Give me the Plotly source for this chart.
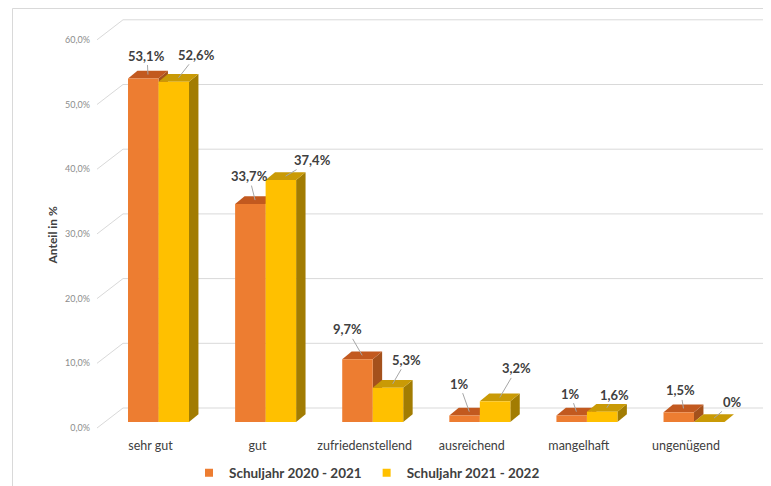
import plotly.graph_objects as go

# ---------------- data ----------------
categories = ["sehr gut", "gut", "zufriedenstellend", "ausreichend", "mangelhaft", "ungenügend"]
series_names = ["Schuljahr 2020 - 2021", "Schuljahr 2021 - 2022"]
values_2020 = [53.1, 33.7, 9.7, 1, 1, 1.5]
values_2021 = [52.6, 37.4, 5.3, 3.2, 1.6, 0]
y_ticks = [0, 10, 20, 30, 40, 50, 60]
y_tick_labels = [f"{v:.1f}".replace(".", ",") + "%" for v in y_ticks]

# ---------------- style ----------------
# page body has an 8px default margin, so the figure is sized/positioned to compensate
W, H = 763, 478
ML, MR, MT, MB = 87, 5, 7, 54
PLOT_W, PLOT_H = W - ML - MR, H - MT - MB
X_RANGE = [-0.593, 5.672]
Y_RANGE = [-1.545, 62.906]
BAR_W = 0.2848
DX, DY = 0.088, 1.2           # 3D depth offsets (data units)
LABEL_SHIFT_Y = 0.927          # tick labels sit a bit lower than the bar scale
GRID_SHIFT_Y = 2.164           # back wall sits higher
GRID_FRONT_X, GRID_BACK_X = -0.574, -0.3315
CAT_LABEL_SHIFT = 0.075

FONT = "Lato"
TXT = "#404040"
series_cols = [
    dict(front="#ED7D31", top="#C2591F", side="#A4511C"),
    dict(front="#FFC000", top="#C99A06", side="#A27C02"),
]
offsets = [-BAR_W, 0.0]
all_values = [values_2020, values_2021]

# label offsets (ax, ay) in px for each label
label_offsets = [
    [(-1, -19), (-6, -24), (-15, -26), (-10, -28), (-6, -18), (-3, -18)],
    [(18, -23), (27, -16), (14, -24), (17, -29), (8, -13), (19, -16)],
]

xpos = list(range(len(categories)))

fig = go.Figure()
shapes = []

# back-wall gridlines with diagonal floor/side-wall connectors
for v in y_ticks:
    shapes.append(dict(type="line", xref="x", yref="y", layer="below",
                       x0=GRID_FRONT_X, y0=v - LABEL_SHIFT_Y, x1=GRID_BACK_X, y1=v + GRID_SHIFT_Y,
                       line=dict(color="#D9D9D9", width=1)))
    shapes.append(dict(type="line", xref="x", yref="y", layer="below",
                       x0=GRID_BACK_X, y0=v + GRID_SHIFT_Y, x1=X_RANGE[1], y1=v + GRID_SHIFT_Y,
                       line=dict(color="#D9D9D9", width=1)))

# 3D faces (side + top) for each bar
for s, vals in enumerate(all_values):
    for i, v in zip(xpos, vals):
        x0 = i + offsets[s]
        x1 = x0 + BAR_W
        side = f"M {x1},0 L {x1+DX},{DY} L {x1+DX},{v+DY} L {x1},{v} Z"
        top = f"M {x0},{v} L {x1},{v} L {x1+DX},{v+DY} L {x0+DX},{v+DY} Z"
        shapes.append(dict(type="path", path=side, xref="x", yref="y", layer="below",
                           fillcolor=series_cols[s]["side"], line=dict(width=0)))
        shapes.append(dict(type="path", path=top, xref="x", yref="y", layer="below",
                           fillcolor=series_cols[s]["top"], line=dict(width=0)))

# outer chart frame
shapes.append(dict(type="rect", xref="paper", yref="paper",
                   x0=(4.5 - ML) / PLOT_W, x1=1.3,
                   y0=-0.3, y1=(H - MB - 0.5) / PLOT_H,
                   line=dict(color="#D9D9D9", width=1), layer="below"))

# front faces of bars
for s, vals in enumerate(all_values):
    fig.add_trace(go.Bar(x=xpos, y=vals, width=BAR_W, offset=offsets[s],
                         marker=dict(color=series_cols[s]["front"], line=dict(width=0)),
                         showlegend=False, hoverinfo="skip"))

# legend entries (small squares)
for s in range(2):
    fig.add_trace(go.Scatter(x=[None], y=[None], mode="markers", name=series_names[s],
                             marker=dict(symbol="square", size=8, color=series_cols[s]["front"])))

# dummy trace to activate second axes (tick labels)
fig.add_trace(go.Scatter(x=[None], y=[None], yaxis="y2", xaxis="x2", showlegend=False))

def fmt(v):
    return f"{v:g}".replace(".", ",") + "%"

annotations = []
for s, vals in enumerate(all_values):
    for i, v in zip(xpos, vals):
        cx = i + offsets[s] + BAR_W / 2 + DX / 2
        ax, ay = label_offsets[s][i]
        annotations.append(dict(x=cx, y=v + DY / 2, xref="x", yref="y", text=fmt(v),
                                showarrow=True, arrowhead=0, arrowwidth=1, arrowcolor="#A6A6A6",
                                ax=ax, ay=ay, standoff=0,
                                font=dict(family=FONT, size=13, color=TXT, weight="bold")))

annotations.append(dict(x=(34 - ML) / PLOT_W, y=(H - MB - 227) / PLOT_H,
                        xref="paper", yref="paper", text="Anteil in %", textangle=-90,
                        showarrow=False, font=dict(family=FONT, size=12, color=TXT, weight="bold")))

fig.update_layout(
    width=W, height=H,
    margin=dict(l=ML, r=MR, t=MT, b=MB, autoexpand=False),
    paper_bgcolor="white", plot_bgcolor="white",
    separators=",.",
    barmode="overlay",
    shapes=shapes,
    annotations=annotations,
    showlegend=True,
    legend=dict(orientation="h", xref="container", yref="container",
                x=181 / W, xanchor="left", y=13 / H, yanchor="middle",
                font=dict(family=FONT, size=13.5, color=TXT, weight="bold"),
                itemclick=False, itemdoubleclick=False),
    xaxis=dict(range=X_RANGE, showticklabels=False, showgrid=False, zeroline=False,
               showline=False, fixedrange=True, automargin=False),
    xaxis2=dict(range=[X_RANGE[0] + CAT_LABEL_SHIFT, X_RANGE[1] + CAT_LABEL_SHIFT],
                overlaying="x", anchor="y", side="bottom", automargin=False,
                tickvals=xpos, ticktext=categories, showgrid=False, zeroline=False,
                showline=False, ticks="", ticklabelstandoff=4,
                tickfont=dict(family=FONT, size=12.5, color=TXT)),
    yaxis=dict(range=Y_RANGE, showticklabels=False, showgrid=False, zeroline=False,
               showline=False, fixedrange=True, automargin=False),
    yaxis2=dict(range=[Y_RANGE[0] + LABEL_SHIFT_Y, Y_RANGE[1] + LABEL_SHIFT_Y],
                overlaying="y", anchor="x", side="left", automargin=False,
                tickvals=y_ticks, ticktext=y_tick_labels,
                showgrid=False, zeroline=False, showline=False, ticks="",
                ticklabelstandoff=4,
                tickfont=dict(family=FONT, size=9, color="#8C8C8C")),
)

fig.write_html("out.html")
